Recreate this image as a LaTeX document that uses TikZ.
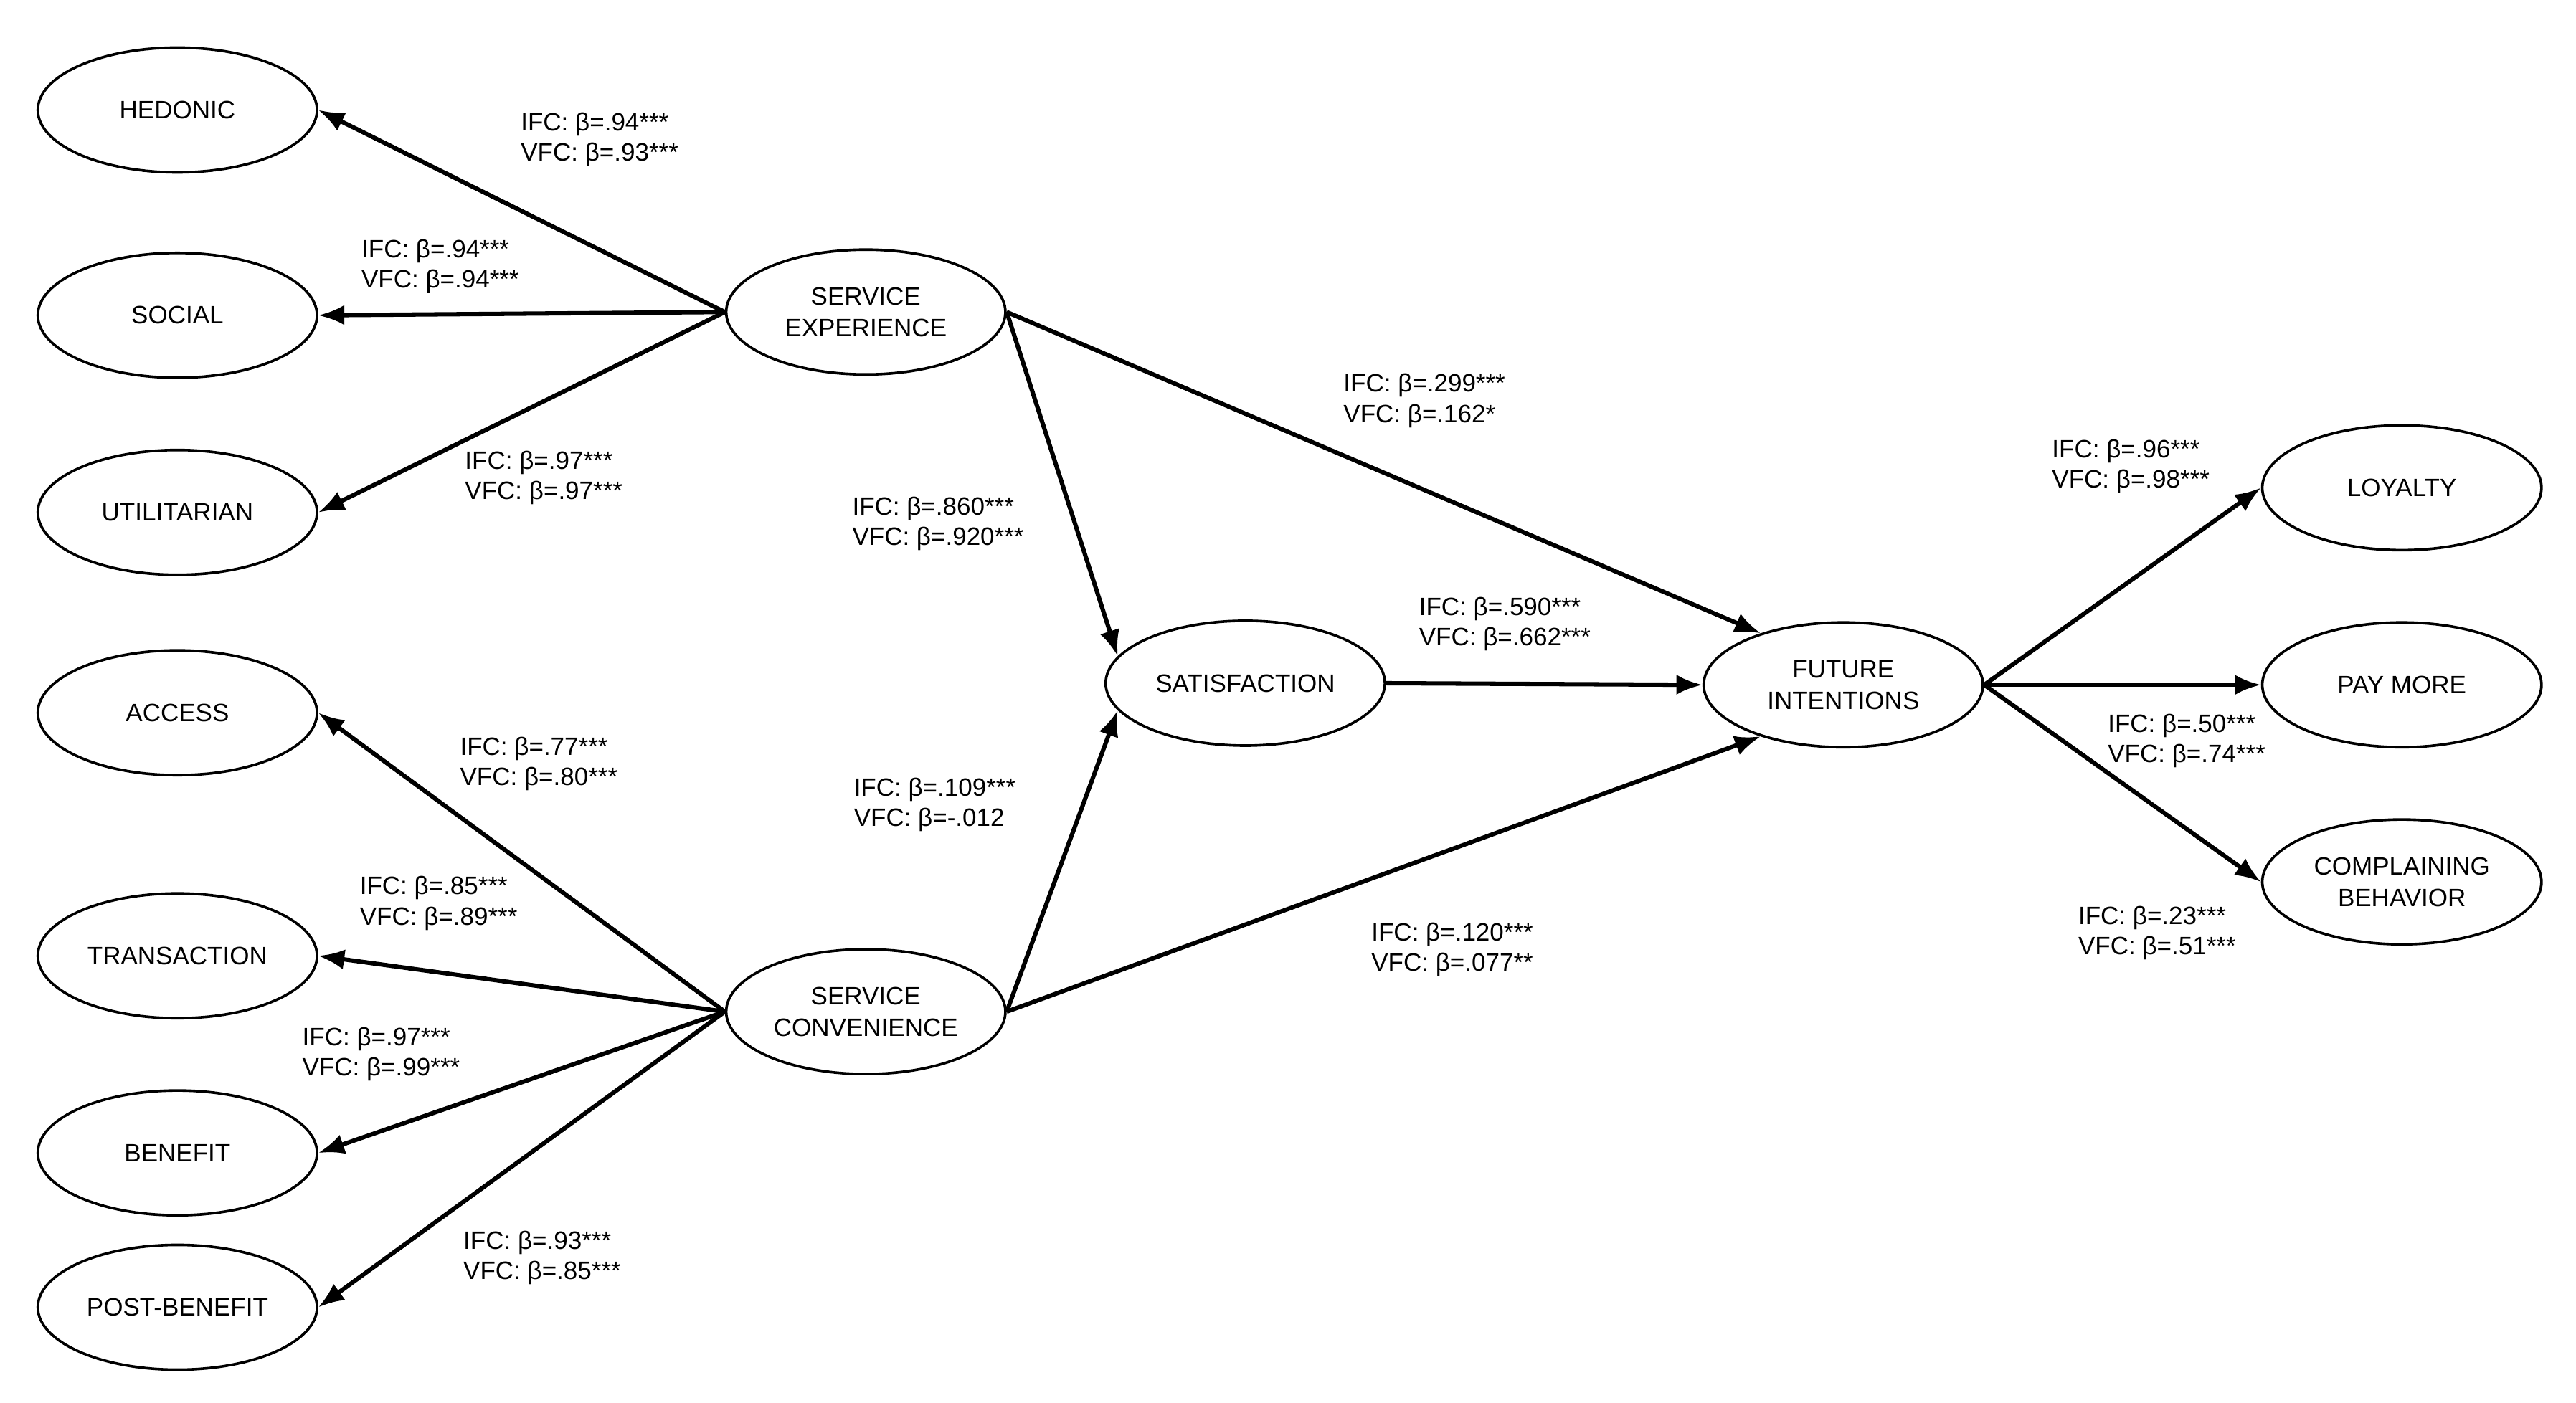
\documentclass[tikz,border=0pt]{standalone}
\usepackage{fontspec}
\setmainfont{Liberation Sans}
\usetikzlibrary{shapes.geometric,arrows.meta}
\begin{document}
\begin{tikzpicture}[x=0.02cm,y=-0.02cm,
  el/.style={draw,ellipse,line width=0.9pt,minimum width=3.4cm,minimum height=1.52cm,align=center,inner sep=0pt,font=\fontsize{8.7}{11}\selectfont},
  ar/.style={line width=1.5pt,-{Latex[length=9pt,width=7pt]}},
  lb/.style={align=left,font=\fontsize{8.7}{10.5}\selectfont,inner sep=0pt}]
\useasboundingbox (0,0) rectangle (1568,854);
\node[el] (hed) at (108,67) {HEDONIC};
\node[el] (soc) at (108,192) {SOCIAL};
\node[el] (uti) at (108,312) {UTILITARIAN};
\node[el] (acc) at (108,434) {ACCESS};
\node[el] (tra) at (108,582) {TRANSACTION};
\node[el] (ben) at (108,702) {BENEFIT};
\node[el] (pbe) at (108,796) {POST-BENEFIT};
\node[el] (se) at (527,190) {SERVICE\\EXPERIENCE};
\node[el] (sc) at (527,616) {SERVICE\\CONVENIENCE};
\node[el] (sat) at (758,416) {SATISFACTION};
\node[el] (fi) at (1122,417) {FUTURE\\INTENTIONS};
\node[el] (loy) at (1462,297) {LOYALTY};
\node[el] (pay) at (1462,417) {PAY MORE};
\node[el] (com) at (1462,537) {COMPLAINING\\BEHAVIOR};
\foreach \t in {hed,soc,uti} \draw[ar] (se.west) -- (\t.east);
\foreach \t in {acc,tra,ben,pbe} \draw[ar] (sc.west) -- (\t.east);
\draw[ar] (se.east) -- (sat.168);
\draw[ar] (sc.east) -- (sat.192);
\draw[ar] (se.east) -- (fi.148);
\draw[ar] (sc.east) -- (fi.212);
\draw[ar] (sat.east) -- (fi.west);
\draw[ar] (fi.east) -- (loy.west);
\draw[ar] (fi.east) -- (pay.west);
\draw[ar] (fi.east) -- (com.west);
\node[lb] (l1) at (365,85) {IFC: β=.94***\\VFC: β=.93***};
\node[lb] (l2) at (268,162) {IFC: β=.94***\\VFC: β=.94***};
\node[lb] (l3) at (331,291) {IFC: β=.97***\\VFC: β=.97***};
\node[lb] (l4) at (571,319) {IFC: β=.860***\\VFC: β=.920***};
\node[lb] (l5) at (867,244) {IFC: β=.299***\\VFC: β=.162*};
\node[lb] (l6) at (916,380) {IFC: β=.590***\\VFC: β=.662***};
\node[lb] (l7) at (569,490) {IFC: β=.109***\\VFC: β=-.012};
\node[lb] (l8) at (884,578) {IFC: β=.120***\\VFC: β=.077**};
\node[lb] (l9) at (328,465) {IFC: β=.77***\\VFC: β=.80***};
\node[lb] (l10) at (267,550) {IFC: β=.85***\\VFC: β=.89***};
\node[lb] (l11) at (232,642) {IFC: β=.97***\\VFC: β=.99***};
\node[lb] (l12) at (330,766) {IFC: β=.93***\\VFC: β=.85***};
\node[lb] (l13) at (1297,284) {IFC: β=.96***\\VFC: β=.98***};
\node[lb] (l14) at (1331,451) {IFC: β=.50***\\VFC: β=.74***};
\node[lb] (l15) at (1313,568) {IFC: β=.23***\\VFC: β=.51***};
\end{tikzpicture}
\end{document}
